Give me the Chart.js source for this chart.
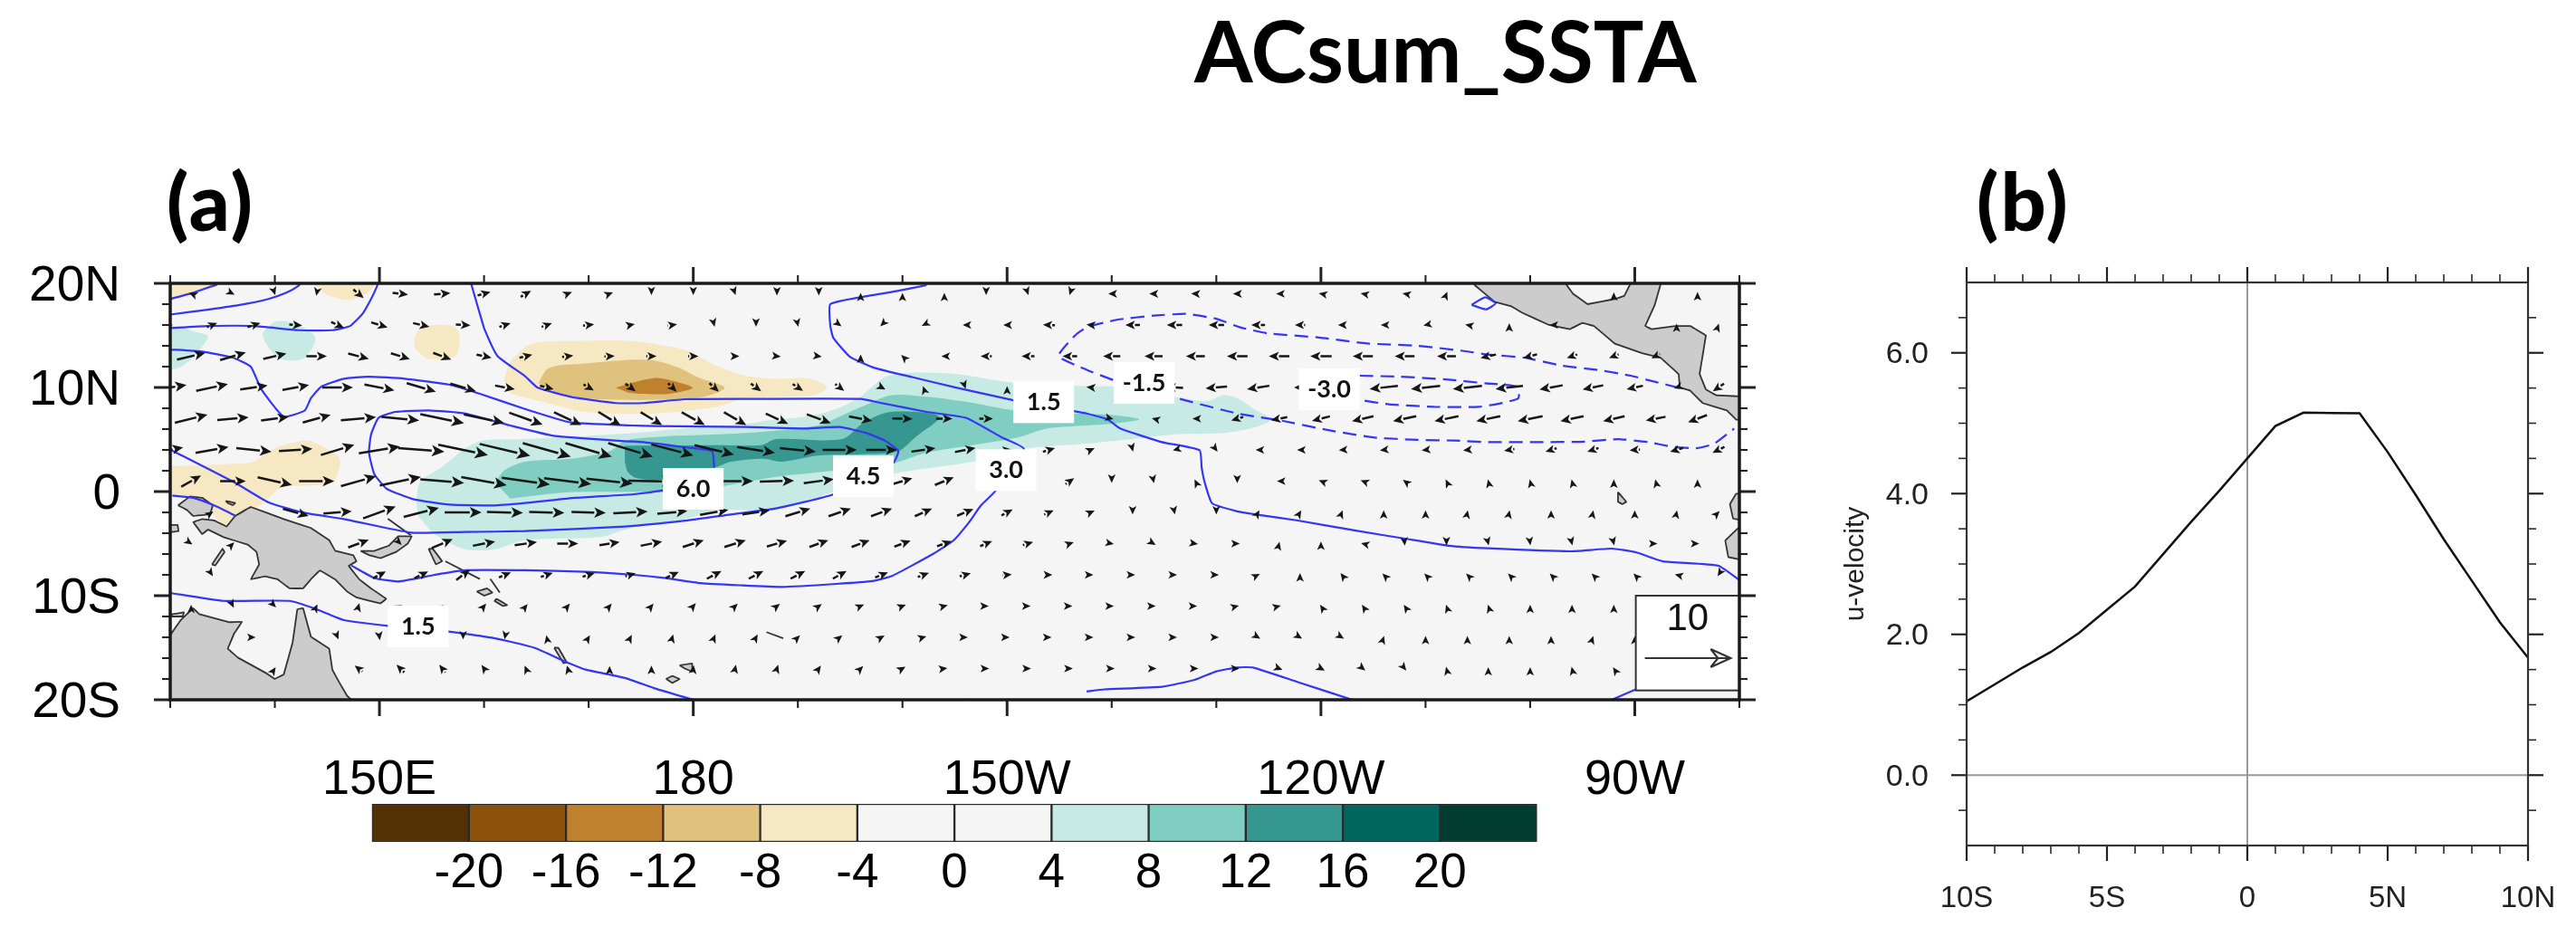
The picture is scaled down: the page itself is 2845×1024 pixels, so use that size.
<!DOCTYPE html>
<html>
<head>
<meta charset="utf-8">
<script src="https://cdn.jsdelivr.net/npm/chart.js@4"></script>
<style>
  html, body { margin: 0; background: #fff; width: 2845px; height: 1024px; overflow: hidden; }
  canvas { position: absolute; filter: blur(0.5px); }
  .head { position: absolute; font-family: Lato, sans-serif; font-weight: 700; color: #000; line-height: 1; white-space: nowrap; }
</style>
</head>
<body>
<div class="head" style="left:1319px;top:9px;font-size:93px">ACsum_SSTA</div>
<div class="head" style="left:184px;top:177px;font-size:88px;font-weight:900;letter-spacing:2px">(a)</div>
<div class="head" style="left:2183px;top:177px;font-size:88px;font-weight:900;letter-spacing:2px">(b)</div>
<canvas id="mapChart" width="2000" height="1024" style="left:0;top:0"></canvas>
<canvas id="barChart" width="1310" height="115" style="left:400px;top:880px"></canvas>
<canvas id="lineChart" width="845" height="1024" style="left:2000px;top:0"></canvas>
<script>
// ---- panel b: zonal mean u-velocity by latitude
const latitudes = [-10,-9,-8,-7,-6,-5,-4,-3,-2,-1,0,1,2,3,4,5,6,7,8,9,10];
const uVelocity = [1.05,1.29,1.53,1.75,2.02,2.35,2.68,3.14,3.6,4.04,4.5,4.96,5.15,5.145,5.14,4.59,3.98,3.35,2.76,2.17,1.67];
const latTicks = [-10,-5,0,5,10];
const latTickLabels = ['10S','5S','0','5N','10N'];
const latMinor = [-9,-8,-7,-6,-4,-3,-2,-1,1,2,3,4,6,7,8,9];
const uTicks = [0,2,4,6];
const uMinor = [-0.5,0.5,1,1.5,2.5,3,3.5,4.5,5,5.5,6.5];

// ---- panel a: axis ticks
const lonTicks = [150,180,210,240,270];
const lonTickLabels = ['150E','180','150W','120W','90W'];
const lonMinor = [130,140,160,170,190,200,220,230,250,260,280];
const mapLatTicks = [-20,-10,0,10,20];
const mapLatLabels = ['20S','10S','0','10N','20N'];
const mapLatMinor = [-18,-16,-14,-12,-8,-6,-4,-2,2,4,6,8,12,14,16,18];

// ---- colour bar
const barEdges = [-24,-20,-16,-12,-8,-4,0,4,8,12,16,20,24];
const barColors = ['#543005','#8c510a','#bf812d','#dfc27d','#f6e8c3','#f5f5f5','#f5f5f5','#c7eae5','#80cdc1','#35978f','#01665e','#003c30'];
const barTicks = [-20,-16,-12,-8,-4,0,4,8,12,16,20];

// ---- shaded SST anomaly, [lon (deg E), lat]
const tanCorner = [[130,20],[134.8,20],[133.4,19.3],[131,18.7],[130,18.5]];
const tanTop = [[143.7,20],[149.5,20],[148.9,19.1],[147.2,18.4],[145.2,18.8],[144.3,19.4]];
const tanSmall = [[153.3,14.75],[153.9,15.6],[155.3,16],[157.2,15.8],[157.7,14.75],[157.2,13],[154.7,12.75],[153.4,13.75]];
const tanWest = [[130,2.43],[135.1,2.64],[138,2.87],[139.7,4.03],[141.4,4.6],[143.2,4.9],[144.9,4.17],[146.2,3.16],[146,1.7],[145.5,0.84],[142.9,0.55],[140.6,0.4],[139.1,-0.9],[138,-1.77],[136.2,-2.5],[135.4,-3.4],[134.5,-2.64],[133.1,-1.33],[131,-0.46],[130,-0.17]];
const tan4 = [[161.9,10.7],[162.5,12.43],[164.5,14.17],[168.3,14.46],[174.3,14.46],[176.3,14.17],[179.2,13.6],[182.1,12.14],[185,11.13],[187.9,10.84],[191.1,10.84],[192.8,9.97],[191.4,9.25],[185,8.96],[182.1,8.1],[176.3,7.5],[169.7,7.65],[165.4,8.67],[162.5,9.4]];
const tan8 = [[165.2,10.4],[166.2,11.86],[169.7,12.3],[174.3,12.67],[176.3,12.58],[178.7,11.86],[180.4,10.99],[183,9.97],[181,9.1],[176.3,8.8],[169.7,8.96],[166.8,9.54]];
const tan12 = [[172.6,9.97],[174.3,10.5],[176.3,10.9],[177.8,10.7],[179.95,9.97],[177.8,9.4],[174.9,9.4],[173.8,9.5]];
const tealCorner = [[130,16],[132.5,15.33],[133.6,14.9],[132.9,13.74],[131.9,12.6],[130.75,11.86],[130,11.7]];
const tealSmall = [[138.8,15.2],[140,16.3],[141.4,16.3],[143.2,15.5],[143.9,14.75],[143.45,13.6],[142.6,12.7],[140.6,12.7],[139.7,13.45],[139,14.46]];
const teal4 = [[153.55,-1.19],[153.84,0.84],[155.86,2.29],[159.3,4.75],[163.9,5.04],[169.7,5.33],[174.3,5.62],[179.2,6.06],[185,6.5],[187.9,6.93],[190.8,7.2],[193.7,7.94],[196,9.1],[198.3,10.99],[200.9,11.42],[205.2,11.28],[209.8,10.55],[213.9,10.26],[218.5,10.1],[220,10.1],[226,9.1],[229.1,8.67],[230.6,9.25],[232,8.96],[233.8,7.8],[235.2,6.93],[233.8,6.2],[230.6,5.62],[226,5.48],[221.9,5.04],[217.6,4.6],[211,4.03],[206.7,2.87],[199.1,1.7],[193.4,-0.03],[187.9,-1.77],[183,-1.77],[179.2,-2.64],[173.46,-3.65],[171.15,-4.38],[163.9,-4.67],[161.05,-5.54],[158.2,-5.54],[155.3,-4.1],[153.7,-2.35]];
const teal8 = [[161.05,0.84],[161.9,2],[163.9,2.87],[168.3,3.16],[172,3.88],[173.5,4.9],[176.4,5.25],[185,5.62],[191.9,6.35],[193.7,7.07],[196,8.1],[198.9,9.25],[202.3,9.1],[206.7,8.52],[210.7,7.8],[216.5,7.5],[219.9,7.36],[222.65,6.93],[219.9,6.5],[217.6,6.35],[213.9,6.06],[211,5.2],[206.7,4.46],[202.3,3.74],[199.1,2.72],[193.4,2],[187.9,1.42],[183,0.55],[179.2,-0.03],[173.46,-0.03],[169.7,-0.03],[166.8,-0.17],[162.5,-0.67]];
const teal12 = [[173.46,2.87],[173.75,1.86],[174.6,1.28],[176.9,1.13],[182,2.29],[183.6,2.87],[186.7,3.16],[188.5,2.87],[191.9,3.45],[196.6,3.6],[199.6,3.88],[201.2,5.2],[203.5,7.2],[198.9,7.65],[196.3,6.64],[194.2,5.04],[187.9,5.04],[186.5,4.46],[182.1,4.46],[173.46,4.4]];

// ---- land and islands
const centralAmerica = [[254.7,20],[254.7,19.83],[256.6,18.23],[258.2,17.8],[259.2,17.2],[261.8,16],[263.8,15.6],[265,16.2],[266.1,15.9],[268.1,14.2],[270.7,13.3],[272.45,12.87],[274.2,11.28],[274.3,10],[275.3,9.7],[276.5,8.5],[278.8,7.8],[279.7,6.9],[281,6.9],[281,9.1],[277.8,9.25],[276.8,9.8],[276.2,11.3],[276.8,15],[275.3,15.9],[273.9,15.9],[271.6,15.6],[271,15.9],[271.9,17.9],[272.45,19.83],[272.45,21],[269.6,21],[269.6,20],[269,18.8],[268.1,18.5],[265.5,18],[264.1,19],[263.5,19.83],[263.5,21],[254.7,21]];
const newGuinea = [[136.2,-2.35],[137.7,-1.48],[140.85,-2.64],[143.45,-3.5],[145.2,-4.67],[145.76,-5.68],[147.5,-6.12],[147.8,-6.7],[147.06,-7.13],[148.07,-8.43],[149.2,-9.3],[150.66,-10.3],[150.1,-10.75],[147.8,-10.17],[146.9,-9.6],[145.76,-8.43],[144.3,-7.57],[143.45,-8.43],[142.7,-9.3],[141.4,-9.3],[140.27,-8.43],[139.1,-8.14],[137.7,-8.43],[138.5,-7],[138.25,-5.8],[137.4,-5.1],[135.1,-4.38],[133.6,-3.65],[133.06,-4.09],[132.2,-2.93],[133.06,-2.64],[134.2,-2.78],[135.4,-3.36]];
const birdsHead = [[130.75,-1.33],[131.9,-0.46],[133.06,-0.6],[134.07,-1.33],[133.8,-2.2],[132.2,-2.35],[131.6,-1.77]];
const australia = [[130,-13.8],[131,-12.35],[132.2,-11.2],[132.77,-11.77],[135.66,-12.55],[136.87,-12.5],[136.1,-13.65],[135.5,-15.1],[136.5,-15.97],[139.1,-17.4],[140,-18],[140.85,-17.57],[141.7,-14.5],[142.15,-11.3],[142.7,-11.2],[143.45,-13.94],[145.2,-15.1],[145.5,-17.13],[146.3,-18.58],[146.9,-19.6],[147.8,-20.5],[129,-20.5],[129,-13.8]];
const newBritain = [[148.2,-5.7],[149.5,-5.7],[150.9,-5.2],[151.8,-4.3],[153.1,-4.3],[152.7,-5],[151.6,-5.8],[150.1,-6.4],[149,-6.1]];
const ecuador = [[281,-0.2],[279.7,-0.2],[279.1,-1.2],[279.4,-2.6],[281,-2.9]];
const peru = [[281,-3.5],[279.9,-3.5],[278.65,-4.7],[278.95,-6.3],[281,-6.7]];
const islandShapes = [
  [[154.7,-5.5],[155.1,-5.5],[156,-6.7],[155.4,-7]],
  [[159.3,-9.6],[160.3,-9.3],[160.8,-9.7],[160,-10]],
  [[161.2,-10.3],[162.2,-10.9],[161.8,-11],[161,-10.5]],
  [[134,-7],[135,-5.5],[135.2,-5.8],[134.3,-7.1]],
  [[135.3,-0.9],[136.2,-1.1],[136,-1.3],[135.5,-1.1]],
  [[130,-3.2],[130.7,-3.2],[130.8,-3.8],[130,-3.9]],
  [[130.1,-11.8],[131.3,-11.6],[131.2,-12],[130.2,-12]],
  [[166.7,-15],[167.6,-16.5],[167.9,-16.4],[167.1,-15]],
  [[177.4,-18],[178,-17.7],[178.7,-18],[178,-18.4]],
  [[178.7,-16.7],[179.9,-16.5],[179.9,-17.3],[179.2,-17]],
  [[268.4,-0.05],[269.2,-1],[268.8,-1.2],[268.4,-1]]
];
const islandLines = [
  [[150.8,-2.6],[153,-4.2]],
  [[156.3,-6.7],[159.6,-8.4]],
  [[160.6,-8.4],[161.5,-9.7]],
  [[187,-13.5],[188.6,-14.1]]
];

// ---- u-wind contours, [lon, lat]
const lineA = [[130,18.5],[132.2,19.1],[134.5,19.9]];
const lineB = [[130,17],[133.06,17.4],[136.5,17.9],[139.4,18.5],[141.1,19.1],[142.3,19.8],[142.6,20.2]];
const lineC = [[130,15.7],[133.6,15.9],[138,15.9],[142.3,15.5],[145.5,15.5],[147.2,15.9],[148.4,17.1],[149.2,18.5],[149.8,19.8],[149.9,20.2]];
const line15 = [[130,13.65],[133.06,13.45],[135.95,12.87],[137.7,12],[138.7,9.83],[140.85,7.2],[142.87,7.8],[143.45,8.96],[144.46,10.1],[146.6,10.84],[148.9,11.04],[152.4,10.84],[156.7,10.26],[159.6,9.39],[163.9,7.94],[168.3,6.64],[174.3,6.35],[176.3,6.29],[185,6.2],[190.8,6.06],[194,6.2],[196.6,5.6],[198.3,4.9],[199.6,3.9],[199.1,2.72],[193.4,-0.26],[187.9,-1.62],[183.56,-2.2],[179.2,-2.8],[173.46,-3.36],[163.9,-3.8],[158.2,-3.88],[153,-3.94],[146.6,-2.64],[142.9,-2.06],[139.4,-1.04],[136.2,0.84],[130,4.03]];
const line30 = [[158.7,20.2],[159.6,17.07],[160.04,15.6],[161.3,13],[163.9,11.1],[165.1,10],[168.3,9.1],[172.6,8.5],[175.2,8.5],[179.2,8.87],[185,8.9],[196,8.9],[198,8.5],[202.3,7.65],[206.1,7.07],[209.5,5.2],[211.6,4.09],[208.8,-0.03],[207.5,-1.33],[206.4,-2.9],[204.9,-4.67],[202.9,-6],[199,-8.1],[197.1,-8.6],[193.7,-8.87],[188.5,-9.16],[184.4,-9],[180.7,-8.8],[177.2,-8.3],[174.3,-8],[169.7,-7.7],[163.9,-7.56],[158.2,-7.56],[155.3,-8],[151.8,-8.64],[149.5,-8.3],[147.3,-7.1]];
const line60 = [[182,2.29],[181.8,3.88],[179.2,4.26],[175.2,4.75],[173.46,4.84],[166.8,5.33],[162.5,6.35],[158.2,7.5],[154.7,7.8],[151.5,7.65],[149.9,7.07],[149.2,5.48],[149,3.74],[149.5,1.7],[150.7,0.26],[153.3,-0.75],[156.7,-1.25],[161.05,-1.33],[164.6,-1.04],[168.7,-0.6],[174.3,-0.26],[177.07,0.12],[182,1.2]];
const lineSouth = [[130,-9.74],[135.1,-10.5],[141.4,-10.5],[143.7,-11.2],[146.6,-12.35],[150.8,-12.9],[156.6,-13.45],[161.05,-14.1],[164.8,-15],[167.7,-16.3],[169.7,-17.1],[173.46,-17.9],[176.3,-18.9],[180.7,-20.2]];
const lineEast = [[202.3,19.83],[199.4,19.25],[196,18.67],[193.1,18],[193.1,15.9],[193.4,14.75],[195,12.93],[197.4,11.86],[200.9,11],[205.2,9.97],[210.5,8.8],[216.5,7.7],[217.6,7.5],[219.6,6.93],[220.8,6.06],[224.8,4.75],[228.4,3.97],[228.6,2.3],[228.9,0.84],[229.6,-1.13],[232,-1.9],[233.8,-2.2],[237.8,-2.78],[243.6,-3.8],[247.9,-4.5],[252.2,-5.2],[256,-5.45],[263.8,-5.74],[267.8,-5.48],[270.1,-5.83],[272.7,-6.7],[278,-7.13],[280,-8.5]];
const lineBottom = [[217.6,-19.2],[219.3,-19],[224.8,-18.75],[228,-18.06],[230,-17.27],[232,-16.9],[233.5,-16.9],[237.8,-18.3],[243.6,-20.2]];
const lineCorner = [[267.8,-20],[270.1,-19]];
const lineCoast = [[130.2,-0.38],[132.2,-0.6],[134.2,-1.33],[136.2,-2.3]];
const lineLoop = [[254.4,17.94],[255.7,18.67],[256.7,18.07],[255.8,17.5],[254.4,17.94]];
const dash15 = [[274.2,9.97],[271.9,10.55],[269.6,11.13],[266.7,11.65],[263,12.1],[259.4,12.87],[255.98,13.16],[253.7,13.5],[249.3,14],[244.4,14.23],[239.8,14.8],[234.9,15.2],[232.3,15.77],[230,16.6],[227.1,17.07],[224,16.9],[220.5,16.5],[217.6,15.77],[216.5,15],[214.9,13],[217.6,11.7],[220.2,10.7],[226.3,8.96],[232,7.5],[236.4,6.78],[240.7,5.9],[245,5.2],[249.3,4.96],[252.8,4.9],[256,4.75],[260.9,4.75],[265.2,4.8],[268.4,5.04],[271.3,4.75],[273.6,4.3],[275.9,4.17],[277.6,4.6],[279.5,6.05]];
const dash30 = [[243.7,11.13],[247.6,11.04],[252.2,10.75],[255.7,10.4],[258.87,10.06],[258.87,8.96],[257.4,8.52],[255.1,8.14],[250.8,8.14],[246.5,8.38],[243.7,8.8]];

// ---- contour labels
const labelTexts = ['1.5','6.0','4.5','3.0','1.5','-1.5','-3.0'];
const labelLons = [153.7,180,196.26,209.9,213.5,223.1,240.8];
const labelLats = [-12.96,0.26,1.48,2.06,8.58,10.43,9.83];

// ---- wind vectors (m/s), one pair of lists per latitude row
const u19 = [-.5,.4,.1,-.1,1.2,1.8,1.9,1.5,1.2,1,.8,0,0,.1,0,0,0,0,0,0,.1,-.1,-.8,-1,-1,-1,-.7,-.5,-.5,-.5,.2,null,null,null,0,null,0];
const v19 = [.2,-.2,-.3,-.5,-1,-.2,.15,.4,.7,.4,.3,-.3,-.3,-.3,-.4,-.4,.2,.2,.2,-.3,-.3,-.3,0,0,.05,0,0,.1,.1,.1,.5,null,null,null,.3,null,.4];
const u16 = [.6,1.2,1.5,1.5,1.5,1.9,1.9,1.7,1.3,1.2,1.3,1,1.1,.1,0,.1,.4,-.3,-.4,-.6,-.9,-1.4,-1,-1.7,-1.8,-1.8,-1.6,-1.2,-.9,-.7,-.5,-.5,0,-.3,null,null,0,.1];
const v16 = [0,.5,.5,-.1,-.7,-.6,-.45,-.1,.45,.45,.15,.2,.15,-.4,-.4,-.45,-.3,-.3,-.2,0,0,.05,.1,0,0,0,0,0,0,0,-.1,.1,.4,0,null,null,.3,.3];
const u13 = [3.3,3,2.7,2.4,2.4,2.2,2.1,1.75,1.5,1.3,1.2,1.2,1.2,1,.9,.7,0,-.3,-.7,-1.3,-1.5,-1.7,-2,-2.1,-2.2,-2.4,-2.4,-2.5,-2.35,-2.3,-2.2,-1.8,-1.6,-1.2,-1.1,-1,null];
const v13 = [.8,.9,.65,0,-.65,-.7,-.8,-.35,.35,.15,.05,0,0,0,-.1,-.1,.4,.3,0,0,0,0,0,0,0,0,-.02,0,0,0,0,-.4,-.45,-.4,-.45,-.5,null];
const u10 = [3.8,3.7,3.2,3.1,3.6,3.5,3.4,3,2.3,1.6,1.2,1.2,1,1.1,1.2,1.2,1.05,.9,-.1,.1,0,null,-1,-1.5,-2,-2.5,-2.6,-1.4,-2,-3.3,-3.4,-3.4,-3.2,-2.7,-2.4,-1.9,-.6,-1.3];
const v10 = [.6,.8,.5,.6,0,-.7,-1,-.9,-.45,-.4,-.7,-.9,-1,-1,-.9,-.8,-.8,-.5,.3,-.3,.3,null,.1,.1,.1,-.2,-.4,0,-.2,-.35,-.35,-.35,-.35,-.5,-.5,-.4,-.2,-.9];
const u7 = [3.8,3.65,3.2,3.25,4.1,4.4,5.1,4.7,3.9,3.2,2.6,2.5,2.7,2.6,2.6,2.8,2.7,2.35,1.9,1.6,1,.5,.4,-.4,-.7,-1.4,-1.9,-2.1,-2.5,-2.7,-2.8,-2.8,-2.9,-2.7,-2.5,-2.3,-2.2];
const v7 = [.95,.3,.4,.9,.35,-.4,-1.05,-1,-1.4,-1.5,-1.6,-1.5,-1.5,-1.5,-1.2,-1.05,-.55,-.05,0,0,0,0,-.1,.1,0,-.4,-.35,-.55,-.6,-.6,-.6,-.6,-.6,-.6,-.6,-.45,-.85];
const u4 = [3,3.85,4.1,3.9,3.9,4.8,5.4,5.8,5.9,5.6,5.4,5.2,4.9,4.6,4.4,4.2,4,3.6,2.8,2.4,1,1.4,.9,.1,-.4,.3,-.6,-.7,-.7,-.9,-.9,-1,-1.2,-1.3,-1.3,-1.2,-1.5,-1.4];
const v4 = [.6,.7,-.4,.25,1.2,.8,-.4,-1.2,-1.4,-1.6,-1.6,-1.6,-1.3,-1.1,-.7,-.4,0,0,.4,.5,.1,.45,.4,-.4,-.1,-.4,0,0,-.05,-.1,-.1,-.1,-.2,-.4,-.45,-.1,-.45,-.7];
const u1 = [2.3,3,4,4.1,4.1,4.8,5.1,5.3,5.6,5.5,5.4,5.4,4.4,4.2,4,3.5,3,2.3,2.2,1.5,1.2,1,0,.1,-.2,0,-.5,-.5,-.5,-.4,-.2,-.1,-.1,-.1,0,-.1,0];
const v1 = [1.3,0,-.9,0,1.15,1,-.4,-.95,-.8,-.7,-.6,-.1,0,0,.1,.5,.5,.7,.9,.6,.5,.7,-.4,-.5,.4,-.5,0,.2,.2,.3,.4,.4,.4,.4,.4,.4,.4];
const uS2 = [.4,.3,null,3,3.3,3.8,4.1,4.3,4.2,4.1,4,4,3.5,3.3,3.2,2.9,2.6,2.45,2,1.9,1.3,1.1,.9,0,.1,0,.3,.3,.2,0,0,.1,.1,0,.1,0,.1,.3];
const vS2 = [0,.2,null,-.85,.25,1.4,1.05,0,-.1,-.1,-.1,.2,.3,.6,.5,.9,.9,.9,.9,.8,.7,.5,.4,-.5,-.5,-.5,.5,.5,.5,.5,.5,.5,.5,.5,.5,.5,.5,.3];
const uS5 = [.3,.3,null,null,2.4,.3,2.45,2.6,2.6,2.45,2.35,2.5,2.45,2.5,2.35,2.2,2.1,1.9,1.7,1.4,1.2,.9,.5,.5,.6,.6,.1,0,-.4,.05,0,.1,.05,.1,.1,.4,.4];
const vS5 = [-.2,.3,null,null,.9,-.3,1.05,.5,.35,0,.35,.5,.8,.8,.7,.8,.8,.7,.6,.6,.35,.3,-.1,-.3,-.1,0,.4,.5,.1,-.5,-.4,-.4,-.4,-.4,-.4,0,0];
const uS8 = [.1,.2,null,null,null,1.5,1.6,1.6,1.4,1.4,1.4,1.2,1.5,1.7,1.7,1.7,1.6,1.5,1.3,1.3,1.1,.8,.6,.6,.6,.6,.4,0,-.3,-.3,-.3,-.3,-.3,-.3,-.3,-.3,-.4,-.2];
const vS8 = [0,-.3,null,null,null,.8,.8,1.2,.6,.5,.45,.35,.7,.9,.9,.9,.9,.6,.5,.35,.1,0,0,0,0,0,.2,.4,.4,.3,.3,.3,.3,.3,.3,.3,.1,-.3];
const uS11 = [0,.2,.3,.2,.2,.4,.3,.5,.4,.5,.5,.5,.6,.6,.7,.7,.8,.8,.8,.6,.6,.6,.5,.5,.4,.4,.4,-.2,-.2,-.2,-.1,-.1,0,0,0,null,null];
const vS11 = [.3,-.4,-.3,.4,.7,.2,.2,.6,.5,.6,.6,.6,.7,.6,.55,.5,.35,.3,.2,0,0,0,0,0,0,.1,.1,.3,.3,.3,.3,.3,.3,.3,.3,null,null];
const uS14 = [null,null,.4,null,.2,.1,.2,0,-.1,-.1,.3,.3,.2,.3,.4,.5,.6,.7,.7,.6,.6,.6,.6,.6,.6,.6,.5,.5,.5,.1,0,0,0,0,.1,0,null,null];
const vS14 = [null,null,0,null,-.5,-.7,-.2,-.5,-.5,.5,.5,.6,.7,.7,.7,.5,.5,.4,.2,0,0,0,0,0,0,0,-.3,-.3,-.3,.3,.3,.3,.3,.3,.3,.3,null,null];
const uS17 = [null,null,.2,null,-.9,-.9,-.7,-.6,-.3,-.2,0,0,.1,.2,.3,.5,.6,.7,.7,.7,.7,.7,.7,.7,.7,.5,.8,.9,.6,.4,-.1,0,0,-.1,-.2,null,null];
const vS17 = [null,null,.3,null,.7,.9,.9,.85,.7,.7,.6,.7,.8,.9,.9,.7,.6,.4,.1,0,0,0,0,0,0,0,-.3,-.5,-.5,-.5,.4,.3,.3,.4,.3,null,null];
const uS20 = [null,null,null,null,null,null,0,0,0,0,0,0,0,0,0,0,0,0,0,0,0,0,0,0,0,0,0,0,0,0,0,0,0,0,0,null,null,null];
const vS20 = [null,null,null,null,null,null,.3,.3,.3,.3,.3,.3,.3,.3,.3,.3,.3,.3,.3,.3,.3,.3,.3,.3,.3,.3,.3,.3,.3,.3,.3,.3,.3,.3,.3,null,null,null];
const windLats = [19,16,13,10,7,4,1,-2,-5,-8,-11,-14,-17,-20];
const windStartLons = [132,130,132,130,132,130,132,130,132,130,132,130,132,130];
const windU = [u19,u16,u13,u10,u7,u4,u1,uS2,uS5,uS8,uS11,uS14,uS17,uS20];
const windV = [v19,v16,v13,v10,v7,v4,v1,vS2,vS5,vS8,vS11,vS14,vS17,vS20];
const refVector = 10;

const sans = '"Liberation Sans", Arial, sans-serif';
const lonPerUnit = 0.82;   // degrees of longitude drawn for 1 m/s

function xy(pts) { return pts.map(p => ({x: p[0], y: p[1]})); }
function shade(pts, color) {
  return {data: xy(pts), showLine: true, fill: 'shape', backgroundColor: color, borderWidth: 0, pointRadius: 0, tension: 0.3};
}
function land(pts) {
  return {data: xy(pts.concat([pts[0]])), showLine: true, fill: 'shape', backgroundColor: '#cccccc', borderColor: '#333', borderWidth: 1.8, pointRadius: 0, tension: 0.01};
}
function contour(pts, dash) {
  return {data: xy(pts), showLine: true, fill: false, borderColor: '#3535f5', borderWidth: 2.2, borderDash: dash ? [15, 8] : [], pointRadius: 0, tension: 0.15};
}
function coast(pts) {
  return {data: xy(pts), showLine: true, fill: false, borderColor: '#333', borderWidth: 1.8, pointRadius: 0};
}

function arrow(ctx, x0, y0, dx, dy) {
  const len = Math.hypot(dx, dy);
  if (len < 0.01) return;
  const ux = dx / len, uy = dy / len;
  const tipX = x0 + dx / 2, tipY = y0 + dy / 2;
  const head = Math.min(15, 9 + len * 0.1);
  const backX = tipX - ux * head, backY = tipY - uy * head;
  ctx.strokeStyle = ctx.fillStyle = '#161616';
  ctx.lineWidth = 2.5;
  if (len > head) {
    ctx.beginPath();
    ctx.moveTo(x0 - dx / 2, y0 - dy / 2);
    ctx.lineTo(backX, backY);
    ctx.stroke();
  }
  ctx.beginPath();
  ctx.moveTo(tipX, tipY);
  ctx.lineTo(backX - uy * head * 0.45, backY + ux * head * 0.45);
  ctx.lineTo(backX + ux * head * 0.25, backY + uy * head * 0.25);
  ctx.lineTo(backX + uy * head * 0.45, backY - ux * head * 0.45);
  ctx.closePath();
  ctx.fill();
}

// tick marks on all four sides, drawn through the scales
function sideTicks(ctx, area, scale, vals, len, width, side) {
  ctx.strokeStyle = '#222';
  ctx.lineWidth = width;
  vals.forEach(v => {
    const p = scale.getPixelForValue(v);
    ctx.beginPath();
    if (side === 'top') { ctx.moveTo(p, area.top); ctx.lineTo(p, area.top - len); }
    if (side === 'bottom') { ctx.moveTo(p, area.bottom); ctx.lineTo(p, area.bottom + len); }
    if (side === 'left') { ctx.moveTo(area.left, p); ctx.lineTo(area.left - len, p); }
    if (side === 'right') { ctx.moveTo(area.right, p); ctx.lineTo(area.right + len, p); }
    ctx.stroke();
  });
}

const framePlugin = {
  id: 'frame',
  afterDraw(chart, args, o) {
    const {ctx, chartArea: a, scales: {x, y}} = chart;
    ctx.save();
    ['top', 'bottom'].forEach(s => {
      sideTicks(ctx, a, x, o.xMajor, o.major, o.tickWidth, s);
      sideTicks(ctx, a, x, o.xMinor, o.minor, o.tickWidth * 0.7, s);
    });
    ['left', 'right'].forEach(s => {
      sideTicks(ctx, a, y, o.yMajor, o.major, o.tickWidth, s);
      sideTicks(ctx, a, y, o.yMinor, o.minor, o.tickWidth * 0.7, s);
    });
    ctx.strokeStyle = o.color;
    ctx.lineWidth = o.width;
    ctx.strokeRect(a.left, a.top, a.right - a.left, a.bottom - a.top);
    ctx.restore();
  }
};

const mapPlugin = {
  id: 'mapLayers',
  beforeDatasetsDraw(chart) {
    const {ctx, chartArea: a} = chart;
    ctx.fillStyle = '#f5f5f5';
    ctx.fillRect(a.left, a.top, a.right - a.left, a.bottom - a.top);
  },
  afterDatasetsDraw(chart) {
    const {ctx, chartArea: a, scales: {x, y}} = chart;
    ctx.save();
    ctx.beginPath();
    ctx.rect(a.left, a.top, a.right - a.left, a.bottom - a.top);
    ctx.clip();
    windLats.forEach((lat, r) => {
      windU[r].forEach((u, i) => {
        const v = windV[r][i];
        if (u === null || v === null) return;
        const lon = windStartLons[r] + i * 4;
        const dx = x.getPixelForValue(lon + u * lonPerUnit) - x.getPixelForValue(lon);
        const dy = y.getPixelForValue(lat + v * lonPerUnit) - y.getPixelForValue(lat);
        arrow(ctx, x.getPixelForValue(lon), y.getPixelForValue(lat), dx, dy);
      });
    });
    ctx.restore();

    // white boxes of the contour labels
    ctx.save();
    ctx.font = '700 27px Lato, sans-serif';
    ctx.textAlign = 'center';
    ctx.textBaseline = 'middle';
    labelTexts.forEach((t, i) => {
      const px = x.getPixelForValue(labelLons[i]), py = y.getPixelForValue(labelLats[i]);
      ctx.fillStyle = '#fff';
      ctx.fillRect(px - 33.5, py - 23, 67, 46);
      ctx.fillStyle = '#111';
      ctx.fillText(t, px, py);
    });

    // reference vector box
    const bx = x.getPixelForValue(270.1), bt = y.getPixelForValue(-10), bb = y.getPixelForValue(-19.1);
    ctx.fillStyle = '#fff';
    ctx.fillRect(bx, bt, a.right - bx, bb - bt);
    ctx.strokeStyle = '#333';
    ctx.lineWidth = 2;
    ctx.strokeRect(bx, bt, a.right - bx, bb - bt);
    ctx.fillStyle = '#111';
    ctx.font = '42px ' + sans;
    ctx.fillText(String(refVector), (bx + a.right) / 2, bt + 26);
    const ax = bx + 10, ay = y.getPixelForValue(-16.0);
    const len = x.getPixelForValue(130 + refVector * lonPerUnit) - x.getPixelForValue(130);
    ctx.lineWidth = 2.2;
    ctx.beginPath();
    ctx.moveTo(ax, ay); ctx.lineTo(ax + len, ay);
    ctx.moveTo(ax + len - 22, ay - 10); ctx.lineTo(ax + len, ay); ctx.lineTo(ax + len - 22, ay + 10);
    ctx.moveTo(ax + len - 22, ay - 10); ctx.lineTo(ax + len - 14, ay); ctx.lineTo(ax + len - 22, ay + 10);
    ctx.stroke();
    ctx.restore();
  }
};

const mapLayers = [
  shade(tanCorner, barColors[4]), shade(tanTop, barColors[4]), shade(tanSmall, barColors[4]), shade(tanWest, barColors[4]),
  shade(tan4, barColors[4]), shade(tan8, barColors[3]), shade(tan12, barColors[2]),
  shade(tealCorner, barColors[7]), shade(tealSmall, barColors[7]), shade(teal4, barColors[7]),
  shade(teal8, barColors[8]), shade(teal12, barColors[9]),
  land(centralAmerica), land(newGuinea), land(birdsHead), land(australia), land(newBritain), land(ecuador), land(peru)
].concat(islandShapes.map(land), islandLines.map(coast), [
  contour(lineA), contour(lineB), contour(lineC), contour(line15), contour(line30), contour(line60),
  contour(lineSouth), contour(lineEast), contour(lineBottom), contour(lineCorner), contour(lineCoast), contour(lineLoop),
  contour(dash15, true), contour(dash30, true)
]);
mapLayers.forEach((d, i) => { d.order = mapLayers.length - i; });

function fitX(h) { return s => { s.height = h; s.paddingLeft = 0; s.paddingRight = 0; }; }
function fitY(w) { return s => { s.width = w; s.paddingTop = 0; s.paddingBottom = 0; }; }

new Chart(document.getElementById('mapChart'), {
  type: 'scatter',
  data: {datasets: mapLayers},
  plugins: [mapPlugin, framePlugin],
  options: {
    responsive: false, animation: false, devicePixelRatio: 1,
    layout: {padding: {top: 313, right: 79}},
    plugins: {
      legend: {display: false}, tooltip: {enabled: false},
      frame: {xMajor: lonTicks, xMinor: lonMinor, yMajor: mapLatTicks, yMinor: mapLatMinor, major: 18, minor: 9, tickWidth: 3, color: '#1a1a1a', width: 3.5}
    },
    scales: {
      x: {
        type: 'linear', min: 130, max: 280,
        grid: {display: false, drawTicks: false}, border: {display: false},
        afterFit: fitX(251),
        afterBuildTicks: s => { s.ticks = lonTicks.map(v => ({value: v})); },
        ticks: {autoSkip: false, maxRotation: 0, padding: 57, color: '#000', font: {family: sans, size: 54},
          callback: v => lonTickLabels[lonTicks.indexOf(v)]}
      },
      y: {
        type: 'linear', min: -20, max: 20,
        grid: {display: false, drawTicks: false}, border: {display: false},
        afterFit: fitY(188),
        afterBuildTicks: s => { s.ticks = mapLatTicks.map(v => ({value: v})); },
        ticks: {autoSkip: false, padding: 55, labelOffset: 4, color: '#000', font: {family: sans, size: 55},
          callback: v => mapLatLabels[mapLatTicks.indexOf(v)]}
      }
    }
  }
});

new Chart(document.getElementById('barChart'), {
  type: 'bar',
  data: {
    labels: [''],
    datasets: barColors.map((c, i) => ({data: [[barEdges[i], barEdges[i + 1]]], backgroundColor: c, borderColor: '#2a2a2a', borderWidth: 1.5, borderSkipped: false, grouped: false, barPercentage: 1, categoryPercentage: 1}))
  },
  options: {
    indexAxis: 'y', responsive: false, animation: false, devicePixelRatio: 1,
    layout: {padding: {left: 10.6, right: 12.4, top: 8}},
    plugins: {legend: {display: false}, tooltip: {enabled: false}},
    scales: {
      y: {display: false},
      x: {
        type: 'linear', min: -24, max: 24,
        grid: {display: false, drawTicks: false}, border: {display: false},
        afterFit: fitX(65),
        afterBuildTicks: s => { s.ticks = barTicks.map(v => ({value: v})); },
        ticks: {autoSkip: false, maxRotation: 0, padding: 4, color: '#000', font: {family: sans, size: 53}}
      }
    }
  }
});

new Chart(document.getElementById('lineChart'), {
  type: 'scatter',
  data: {
    datasets: [
      {data: latitudes.map((la, i) => ({x: la, y: uVelocity[i]})), showLine: true, borderColor: '#111', borderWidth: 2.5, pointRadius: 0, order: 1},
      {data: [{x: -10, y: 0}, {x: 10, y: 0}], showLine: true, borderColor: '#999', borderWidth: 2, pointRadius: 0, order: 2},
      {data: [{x: 0, y: -1}, {x: 0, y: 7}], showLine: true, borderColor: '#999', borderWidth: 2, pointRadius: 0, order: 3}
    ]
  },
  plugins: [framePlugin],
  options: {
    responsive: false, animation: false, devicePixelRatio: 1,
    layout: {padding: {top: 312, right: 53}},
    plugins: {
      legend: {display: false}, tooltip: {enabled: false},
      frame: {xMajor: latTicks, xMinor: latMinor, yMajor: uTicks, yMinor: uMinor, major: 17, minor: 9, tickWidth: 2.2, color: '#333', width: 2.2}
    },
    scales: {
      x: {
        type: 'linear', min: -10, max: 10,
        grid: {display: false, drawTicks: false}, border: {display: false},
        afterFit: fitX(90),
        afterBuildTicks: s => { s.ticks = latTicks.map(v => ({value: v})); },
        ticks: {autoSkip: false, maxRotation: 0, padding: 39, color: '#222', font: {family: sans, size: 33},
          callback: v => latTickLabels[latTicks.indexOf(v)]}
      },
      y: {
        type: 'linear', min: -1, max: 7,
        grid: {display: false, drawTicks: false}, border: {display: false},
        afterFit: fitY(172),
        afterBuildTicks: s => { s.ticks = uTicks.map(v => ({value: v})); },
        title: {display: true, text: 'u-velocity', color: '#222', padding: {top: 32, bottom: 0}, font: {family: sans, size: 30}},
        ticks: {autoSkip: false, padding: 42, labelOffset: 2, color: '#222', font: {family: sans, size: 34},
          callback: v => v.toFixed(1)}
      }
    }
  }
});
</script>
</body>
</html>
